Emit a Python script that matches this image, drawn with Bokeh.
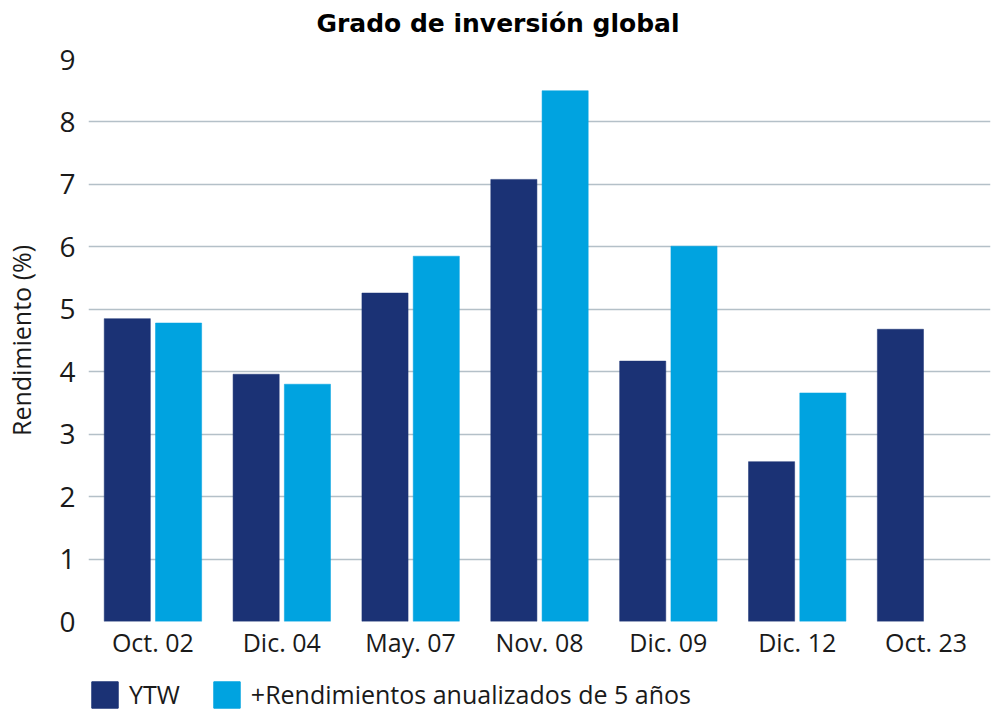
from bokeh.plotting import figure
from bokeh.models import ColumnDataSource, Range1d, FactorRange, Legend, LegendItem, Label
from bokeh.layouts import column
from bokeh.transform import dodge
from bokeh.embed import file_html
from bokeh.resources import INLINE

categories = ["Oct. 02", "Dic. 04", "May. 07", "Nov. 08", "Dic. 09", "Dic. 12", "Oct. 23"]
ytw = [4.85, 3.96, 5.26, 7.08, 4.17, 2.56, 4.68]
rend5 = [4.78, 3.80, 5.85, 8.50, 6.01, 3.66, float("nan")]
y_ticks = [0, 1, 2, 3, 4, 5, 6, 7, 8, 9]
series_names = ["YTW", "+Rendimientos anualizados de 5 años"]
title_text = "Grado de inversión global"
y_label = "Rendimiento (%)"

DARK = "#1b3275"
LIGHT = "#00a3e0"
FONT = "Open Sans"
TEXT = "#1a1a1a"
W = 992

source = ColumnDataSource(dict(cat=categories, ytw=ytw, rend5=rend5))

# ---- title strip ----
tf = figure(width=W, height=40, x_range=Range1d(0, 1), y_range=Range1d(0, 1),
            min_border=0, x_axis_location=None, y_axis_location=None,
            output_backend="svg", toolbar_location=None)
tf.grid.visible = False
tf.outline_line_color = None
tf.add_layout(Label(x=409.5, y=17.3, x_units="screen", y_units="screen", text=title_text,
                    text_align="center", text_baseline="alphabetic",
                    text_font="DejaVu Sans", text_font_style="bold",
                    text_font_size="25px", text_color="#000000"))

# ---- main chart ----
p = figure(x_range=FactorRange(*categories, range_padding=0), y_range=Range1d(0, 9),
           frame_width=902, frame_height=562,
           min_border_left=88, min_border_right=2, min_border_top=19, min_border_bottom=48,
           output_backend="svg", toolbar_location=None)

p.vbar(x=dodge("cat", -0.199, range=p.x_range), top="ytw", width=0.358, source=source,
       fill_color=DARK, line_color=DARK, line_width=0.5)
p.vbar(x=dodge("cat", 0.199, range=p.x_range), top="rend5", width=0.358, source=source,
       fill_color=LIGHT, line_color=LIGHT, line_width=0.5)

p.outline_line_color = None
p.xgrid.grid_line_color = None
p.ygrid.grid_line_color = "#b4c0c8"
p.ygrid.grid_line_width = 1.5
p.yaxis.ticker = y_ticks

for ax in (p.xaxis[0], p.yaxis[0]):
    ax.axis_line_color = None
    ax.major_tick_line_color = None
    ax.minor_tick_line_color = None
    ax.major_label_text_font = FONT
    ax.major_label_text_color = TEXT

p.xaxis.major_label_text_font_size = "25px"
p.xaxis.major_label_standoff = -3
p.yaxis.major_label_text_font_size = "28px"
p.yaxis.major_label_standoff = 7
p.yaxis.axis_label = y_label
p.yaxis.axis_label_text_font = FONT
p.yaxis.axis_label_text_font_style = "normal"
p.yaxis.axis_label_text_font_size = "25px"
p.yaxis.axis_label_text_color = TEXT
p.yaxis.axis_label_standoff = 18

# ---- legend strip (its bars sit below the visible range; only the legend shows) ----
lf = figure(width=W, height=43, x_range=FactorRange(*categories), y_range=Range1d(10, 11),
            min_border=0, x_axis_location=None, y_axis_location=None,
            output_backend="svg", toolbar_location=None)
lf.grid.visible = False
lf.outline_line_color = None
lr1 = lf.vbar(x="cat", top="ytw", width=0.3, source=source, fill_color=DARK, line_color=DARK)
lr2 = lf.vbar(x="cat", top="rend5", width=0.3, source=source, fill_color=LIGHT, line_color=LIGHT)
legend = Legend(items=[LegendItem(label=series_names[0], renderers=[lr1]),
                       LegendItem(label=series_names[1], renderers=[lr2])],
                location=(0, 1), orientation="horizontal",
                glyph_width=33, glyph_height=33, label_standoff=8, spacing=30,
                padding=0, margin=0, border_line_color=None, background_fill_alpha=0,
                label_text_font=FONT, label_text_font_size="25px", label_text_color=TEXT)
lf.add_layout(legend, "center")

layout = column(tf, p, lf, spacing=0)
open("out.html", "w").write(file_html(layout, INLINE))
